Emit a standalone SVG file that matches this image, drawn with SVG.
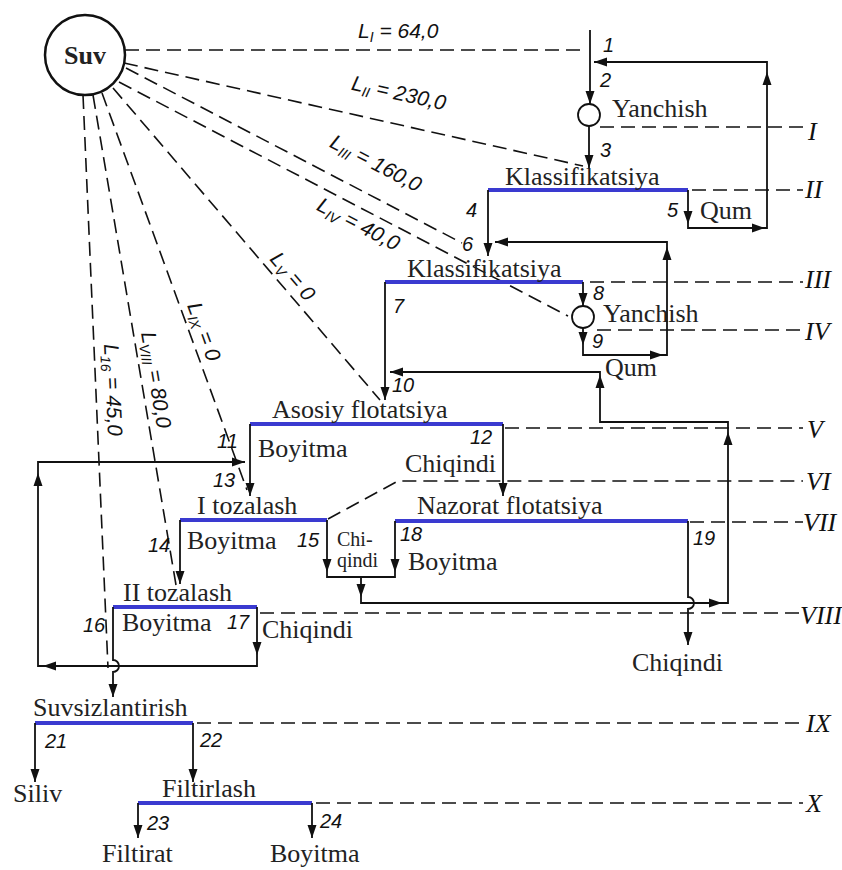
<svg xmlns="http://www.w3.org/2000/svg" xmlns:xlink="http://www.w3.org/1999/xlink" width="842" height="870" viewBox="0 0 842 870">
<style>
.bar{stroke:#3a3ad0;stroke-width:4;fill:none}
.ln{stroke:#111;stroke-width:1.8;fill:none}
.dash{stroke:#111;stroke-width:1.6;stroke-dasharray:14 7;fill:none}
.t{font-family:"Liberation Serif",serif;font-size:26px;fill:#222}
.ts{font-family:"Liberation Serif",serif;font-size:20px;fill:#222}
.n{font-family:"Liberation Sans",sans-serif;font-style:italic;font-size:20px;fill:#111}
.r{font-family:"Liberation Serif",serif;font-style:italic;font-size:26px;fill:#111}
.L{font-family:"Liberation Sans",sans-serif;font-style:italic;font-size:21px;fill:#111}
.sub{font-size:14px}
.circ{stroke:#111;stroke-width:1.8;fill:#fff}
</style>
<defs>
<path id="ah" d="M0,0 L-13,-4.5 L-13,4.5 Z" fill="#111"/>
</defs>
<rect width="842" height="870" fill="#fff"/>

<g id="level-lines">
<path class="dash" d="M600,127 H803"/>
<path class="dash" d="M692,190 H803"/>
<path class="dash" d="M590,282 H803"/>
<path class="dash" d="M597,330 H803"/>
<path class="dash" d="M505,428 H803"/>
<path class="dash" d="M328,519 L398,481 H803"/>
<path class="dash" d="M690,522 H803"/>
<path class="dash" d="M260,613 H803"/>
<path class="dash" d="M197,723 H803"/>
<path class="dash" d="M316,803 H803"/>
<text class="r" x="808" y="140">I</text>
<text class="r" x="805" y="198">II</text>
<text class="r" x="805" y="288">III</text>
<text class="r" x="805" y="340">IV</text>
<text class="r" x="807" y="438">V</text>
<text class="r" x="806" y="490">VI</text>
<text class="r" x="803" y="531">VII</text>
<text class="r" x="800" y="624">VIII</text>
<text class="r" x="806" y="732">IX</text>
<text class="r" x="806" y="812">X</text>
</g>

<g id="water-lines">
<path class="dash" d="M125,50 H583"/>
<path class="dash" d="M124,63 L583,166"/>
<path class="dash" d="M126,68 L462,243"/>
<path class="dash" d="M119,82 L568,316"/>
<path class="dash" d="M113,88 L380,400"/>
<path class="dash" d="M102,93 L247,490"/>
<path class="dash" d="M93,95 L176,585"/>
<path class="dash" d="M83,95 L108,668"/>
<text class="L" x="358" y="38">L<tspan class="sub" dy="4">I</tspan><tspan dy="-4"> = 64,0</tspan></text>
<text class="L" x="398" y="100" text-anchor="middle" transform="rotate(12.6 398 97)">L<tspan class="sub" dy="4">II</tspan><tspan dy="-4"> = 230,0</tspan></text>
<text class="L" x="375" y="170" text-anchor="middle" transform="rotate(27.5 375 165)">L<tspan class="sub" dy="4">III</tspan><tspan dy="-4"> = 160,0</tspan></text>
<text class="L" x="358" y="231" text-anchor="middle" transform="rotate(27.5 358 225)">L<tspan class="sub" dy="4">IV</tspan><tspan dy="-4"> = 40,0</tspan></text>
<text class="L" x="292" y="283" text-anchor="middle" transform="rotate(49.4 292 277)">L<tspan class="sub" dy="4">V</tspan><tspan dy="-4"> = 0</tspan></text>
<text class="L" x="203" y="338" text-anchor="middle" transform="rotate(70 203 332)">L<tspan class="sub" dy="4">IX</tspan><tspan dy="-4"> = 0</tspan></text>
<text class="L" x="155" y="386" text-anchor="middle" transform="rotate(80.4 155 380)">L<tspan class="sub" dy="4">VIII</tspan><tspan dy="-4"> = 80,0</tspan></text>
<text class="L" x="112" y="396" text-anchor="middle" transform="rotate(87.5 112 390)">L<tspan class="sub" dy="4">16</tspan><tspan dy="-4"> = 45,0</tspan></text>
</g>

<g id="suv">
<circle cx="85" cy="55" r="40" fill="#fff" stroke="#111" stroke-width="2.5"/>
<text x="85" y="64" text-anchor="middle" font-family="Liberation Serif, serif" font-weight="bold" font-size="26" fill="#222">Suv</text>
</g>

<g id="yanchish1">
<circle class="circ" cx="589" cy="115" r="11"/>
<text class="t" x="612" y="117">Yanchish</text>
</g>
<g id="klassifikatsiya1">
<path class="bar" d="M488,190 H688"/>
<text class="t" x="505" y="185">Klassifikatsiya</text>
</g>
<g id="klassifikatsiya2">
<path class="bar" d="M385,282 H583"/>
<text class="t" x="407" y="277">Klassifikatsiya</text>
</g>
<g id="yanchish2">
<circle class="circ" cx="583" cy="317" r="11"/>
<text class="t" x="603" y="322">Yanchish</text>
</g>
<g id="asosiy-flotatsiya">
<path class="bar" d="M250,424 H503"/>
<text class="t" x="272" y="418">Asosiy flotatsiya</text>
</g>
<g id="i-tozalash">
<path class="bar" d="M180,520 H327"/>
<text class="t" x="197" y="514">I tozalash</text>
</g>
<g id="nazorat-flotatsiya">
<path class="bar" d="M395,521 H688"/>
<text class="t" x="417" y="514">Nazorat flotatsiya</text>
</g>
<g id="ii-tozalash">
<path class="bar" d="M113,607 H257"/>
<text class="t" x="123" y="601">II tozalash</text>
</g>
<g id="suvsizlantirish">
<path class="bar" d="M35,723 H193"/>
<text class="t" x="33" y="716">Suvsizlantirish</text>
</g>
<g id="filtirlash">
<path class="bar" d="M138,803 H312"/>
<text class="t" x="162" y="797">Filtirlash</text>
</g>
<g id="outputs">
<text class="t" x="700" y="219">Qum</text>
<text class="t" x="605" y="376">Qum</text>
<text class="t" x="258" y="457">Boyitma</text>
<text class="t" x="405" y="472">Chiqindi</text>
<text class="t" x="187" y="549">Boyitma</text>
<text class="ts" x="337" y="546">Chi-</text>
<text class="ts" x="337" y="567">qindi</text>
<text class="t" x="408" y="570">Boyitma</text>
<text class="t" x="632" y="671">Chiqindi</text>
<text class="t" x="122" y="631">Boyitma</text>
<text class="t" x="262" y="638">Chiqindi</text>
<text class="t" x="13" y="802">Siliv</text>
<text class="t" x="102" y="862">Filtirat</text>
<text class="t" x="270" y="862">Boyitma</text>
</g>

<g id="connectors">
<path class="ln" d="M590,30 V104"/>
<path class="ln" d="M589,126 V168"/>
<path class="ln" d="M688,190 V228 H767 V62 H594"/>
<path class="ln" d="M488,190 V256"/>
<path class="ln" d="M583,282 V306"/>
<path class="ln" d="M583,328 V355 H667 V242 H495"/>
<path class="ln" d="M385,282 V400"/>
<path class="ln" d="M250,424 V496"/>
<path class="ln" d="M503,424 V496"/>
<path class="ln" d="M361,577 V603 H728 V422 H600 V372 H390"/>
<path class="ln" d="M327,520 V577 H395 V521"/>
<path class="ln" d="M688,521 V597 a6,6 0 0 1 0,12 V645"/>
<path class="ln" d="M180,520 V584"/>
<path class="ln" d="M257,607 V666 H38 V462 H245"/>
<path class="ln" d="M113,607 V660 a6,6 0 0 1 0,12 V697"/>
<path class="ln" d="M35,723 V782"/>
<path class="ln" d="M193,723 V782"/>
<path class="ln" d="M138,803 V838"/>
<path class="ln" d="M312,803 V838"/>
<use xlink:href="#ah" transform="translate(590,104) rotate(90)"/>
<use xlink:href="#ah" transform="translate(589,168) rotate(90)"/>
<use xlink:href="#ah" transform="translate(594,62) rotate(180)"/>
<use xlink:href="#ah" transform="translate(767,72) rotate(-90)"/>
<use xlink:href="#ah" transform="translate(765,228)"/>
<use xlink:href="#ah" transform="translate(688,224) rotate(90)"/>
<use xlink:href="#ah" transform="translate(488,256) rotate(90)"/>
<use xlink:href="#ah" transform="translate(495,242) rotate(180)"/>
<use xlink:href="#ah" transform="translate(667,247) rotate(-90)"/>
<use xlink:href="#ah" transform="translate(663,355)"/>
<use xlink:href="#ah" transform="translate(583,345) rotate(90)"/>
<use xlink:href="#ah" transform="translate(583,306) rotate(90)"/>
<use xlink:href="#ah" transform="translate(385,400) rotate(90)"/>
<use xlink:href="#ah" transform="translate(390,372) rotate(180)"/>
<use xlink:href="#ah" transform="translate(600,375) rotate(-90)"/>
<use xlink:href="#ah" transform="translate(728,432) rotate(-90)"/>
<use xlink:href="#ah" transform="translate(722,603)"/>
<use xlink:href="#ah" transform="translate(361,597) rotate(90)"/>
<use xlink:href="#ah" transform="translate(327,572) rotate(90)"/>
<use xlink:href="#ah" transform="translate(395,572) rotate(90)"/>
<use xlink:href="#ah" transform="translate(250,496) rotate(90)"/>
<use xlink:href="#ah" transform="translate(503,496) rotate(90)"/>
<use xlink:href="#ah" transform="translate(245,462)"/>
<use xlink:href="#ah" transform="translate(38,473) rotate(-90)"/>
<use xlink:href="#ah" transform="translate(43,666) rotate(180)"/>
<use xlink:href="#ah" transform="translate(257,655) rotate(90)"/>
<use xlink:href="#ah" transform="translate(180,584) rotate(90)"/>
<use xlink:href="#ah" transform="translate(688,645) rotate(90)"/>
<use xlink:href="#ah" transform="translate(113,697) rotate(90)"/>
<use xlink:href="#ah" transform="translate(35,782) rotate(90)"/>
<use xlink:href="#ah" transform="translate(193,782) rotate(90)"/>
<use xlink:href="#ah" transform="translate(138,838) rotate(90)"/>
<use xlink:href="#ah" transform="translate(312,838) rotate(90)"/>
</g>

<g id="stream-numbers">
<text class="n" x="603" y="52">1</text>
<text class="n" x="600" y="87">2</text>
<text class="n" x="600" y="157">3</text>
<text class="n" x="466" y="217">4</text>
<text class="n" x="667" y="217">5</text>
<text class="n" x="462" y="251">6</text>
<text class="n" x="393" y="313">7</text>
<text class="n" x="593" y="300">8</text>
<text class="n" x="592" y="348">9</text>
<text class="n" x="392" y="392">10</text>
<text class="n" x="217" y="448">11</text>
<text class="n" x="470" y="444">12</text>
<text class="n" x="213" y="487">13</text>
<text class="n" x="148" y="552">14</text>
<text class="n" x="297" y="547">15</text>
<text class="n" x="83" y="632">16</text>
<text class="n" x="227" y="629">17</text>
<text class="n" x="400" y="541">18</text>
<text class="n" x="693" y="545">19</text>
<text class="n" x="45" y="748">21</text>
<text class="n" x="200" y="747">22</text>
<text class="n" x="147" y="830">23</text>
<text class="n" x="320" y="828">24</text>
</g>
</svg>
